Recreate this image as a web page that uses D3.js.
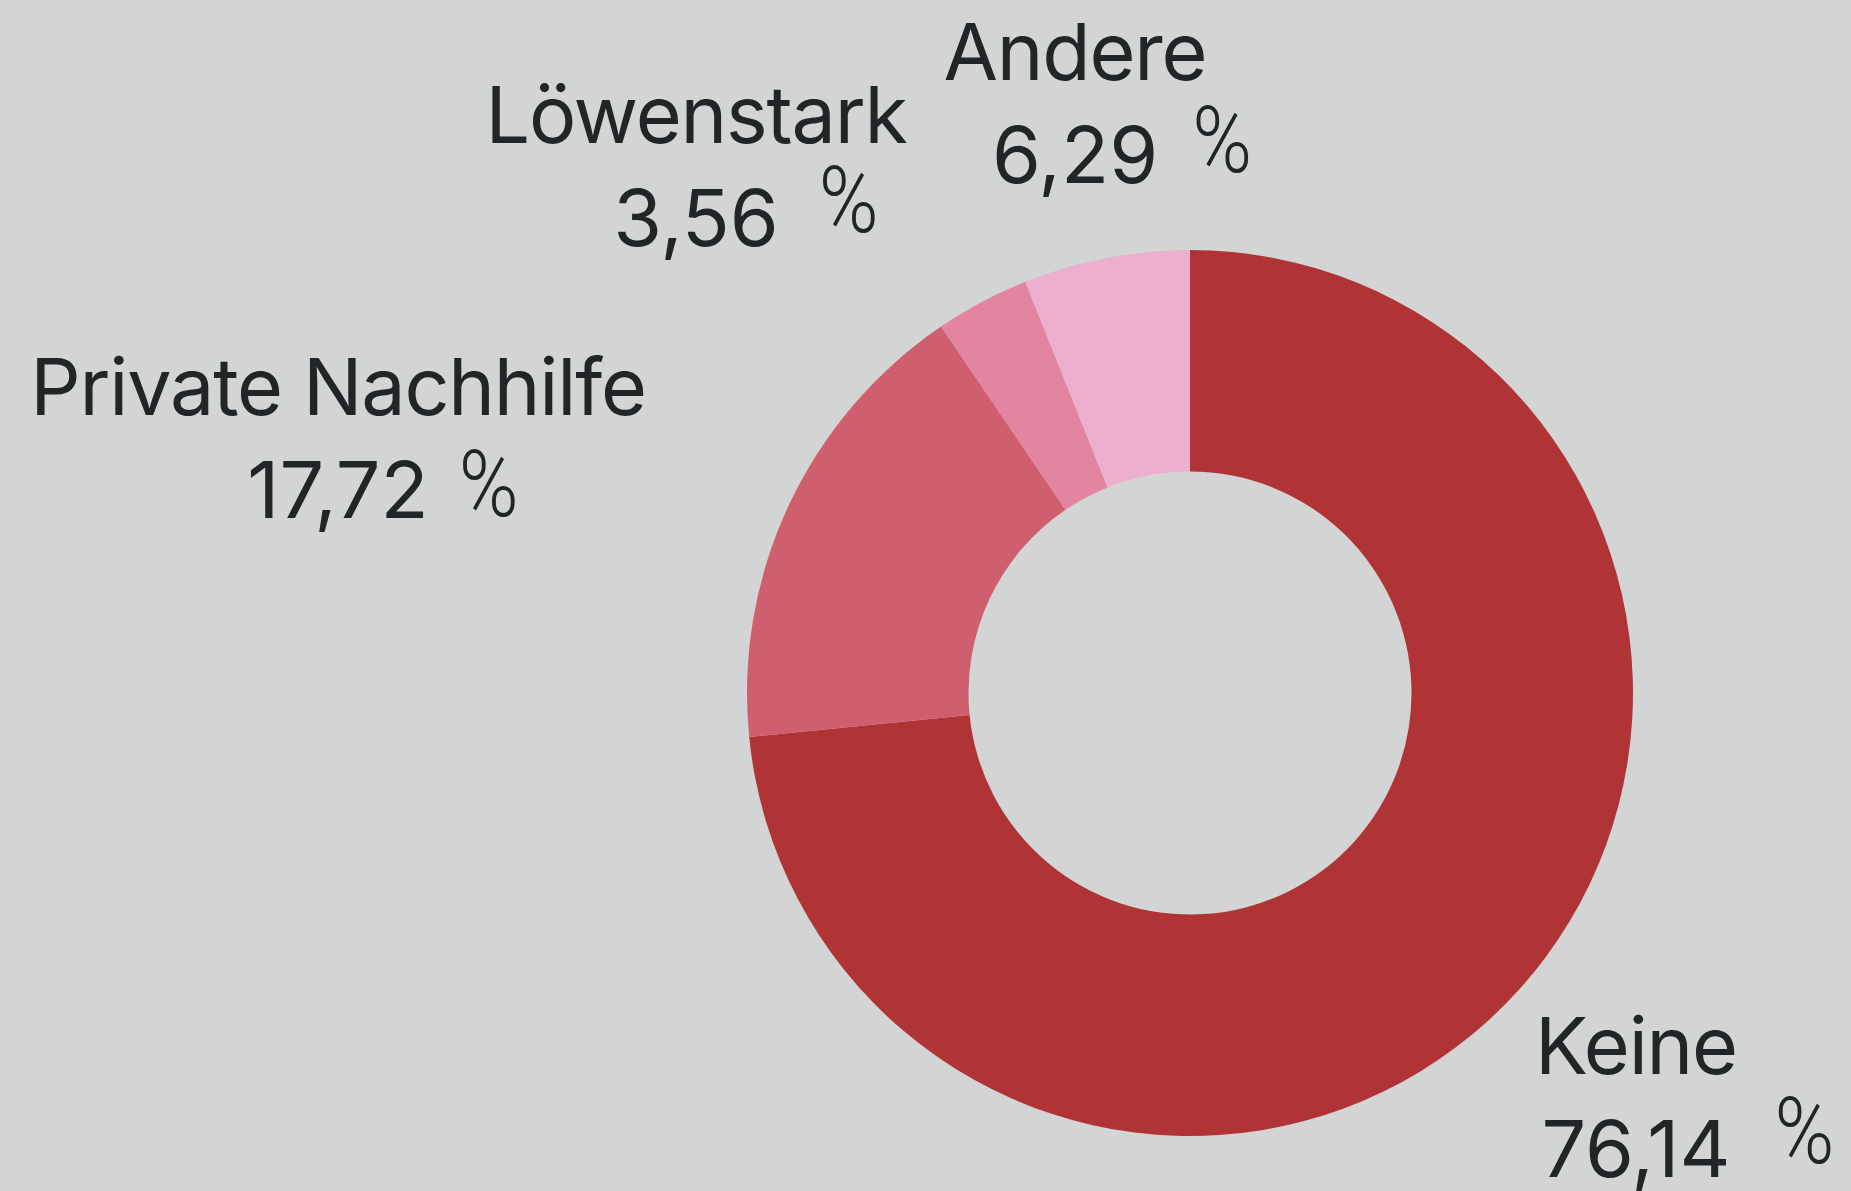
<!DOCTYPE html>
<html>
<head>
<meta charset="utf-8">
<script src="https://cdn.jsdelivr.net/npm/d3@7"></script>
<style>
  html, body { margin: 0; padding: 0; background: #d3d5d4; }
  svg { display: block; }
</style>
</head>
<body>
<div id="chart"></div>
<script>
// data
const categories = ['Keine', 'Private Nachhilfe', 'Löwenstark', 'Andere']
const shares = [76.14, 17.72, 3.56, 6.29]
const colors = ['#b03436', '#cf5f6e', '#e385a1', '#ecafce']

// label placement (name centre x, name baseline y, % offset)
const labelAt = {
    'Keine':             { x: 1636, y: 1074, pctDx: 44, pctDy: -14 },
    'Private Nachhilfe': { x: 338,  y: 415,  pctDx: 30, pctDy: -2 },
    'Löwenstark':        { x: 696,  y: 143,  pctDx: 40, pctDy: -14 },
    'Andere':            { x: 1075, y: 80,   pctDx: 34, pctDy: -11 }
}

const svgWidth = 1851
const svgHeight = 1191
const cx = 1190
const cy = 693
const outerR = 443
const innerR = 221.5
const lineGap = 103

const svg = d3.select('#chart')
    .append('svg')
    .attr('width', svgWidth)
    .attr('height', svgHeight)

svg.append('rect')
    .attr('width', svgWidth)
    .attr('height', svgHeight)
    .attr('fill', '#d3d5d4')

const data = categories.map((c, i) => ({ name: c, value: shares[i] }))

const colorScale = d3.scaleOrdinal()
    .domain(categories)
    .range(colors)

const pie = d3.pie()
    .value(d => d.value)
    .sort(null)

const arc = d3.arc()
    .innerRadius(innerR)
    .outerRadius(outerR)

const g = svg.append('g')
    .attr('transform', `translate(${cx},${cy})`)

g.selectAll('.slice')
    .data(pie(data))
    .join('path')
    .attr('class', 'slice')
    .attr('d', arc)
    .attr('fill', d => colorScale(d.data.name))

////////////////////////////////////
//////////////labels////////////////
////////////////////////////////////
const fmt = d3.formatLocale({ decimal: ',', thousands: '.', grouping: [3], currency: ['', ' €'] }).format('.2f')

const labels = svg.selectAll('.label')
    .data(data)
    .join('g')
    .attr('class', 'label')
    .attr('transform', d => `translate(${labelAt[d.name].x},${labelAt[d.name].y})`)

labels.append('text')
    .attr('text-anchor', 'middle')
    .attr('font-family', 'Inter, "Noto Sans", sans-serif')
    .attr('font-size', 79)
    .attr('letter-spacing', -1.2)
    .attr('fill', '#222528')
    .text(d => d.name)

labels.append('text')
    .attr('class', 'val')
    .attr('text-anchor', 'middle')
    .attr('y', lineGap)
    .attr('font-family', 'Inter, "Noto Sans", sans-serif')
    .attr('font-size', 79)
    .attr('fill', '#222528')
    .text(d => fmt(d.value))

// percent sign, narrow and light, set next to the number
labels.each(function (d) {
    const el = d3.select(this)
    const w = el.select('.val').node().getComputedTextLength()
    const p = labelAt[d.name]
    el.append('text')
        .attr('font-family', 'Roboto, "Liberation Sans", sans-serif')
        .attr('font-weight', 300)
        .attr('font-size', 92)
        .attr('fill', '#222528')
        .attr('transform', `translate(${w / 2 + p.pctDx},${lineGap + p.pctDy}) scale(0.88,1)`)
        .text('%')
})
</script>
</body>
</html>
